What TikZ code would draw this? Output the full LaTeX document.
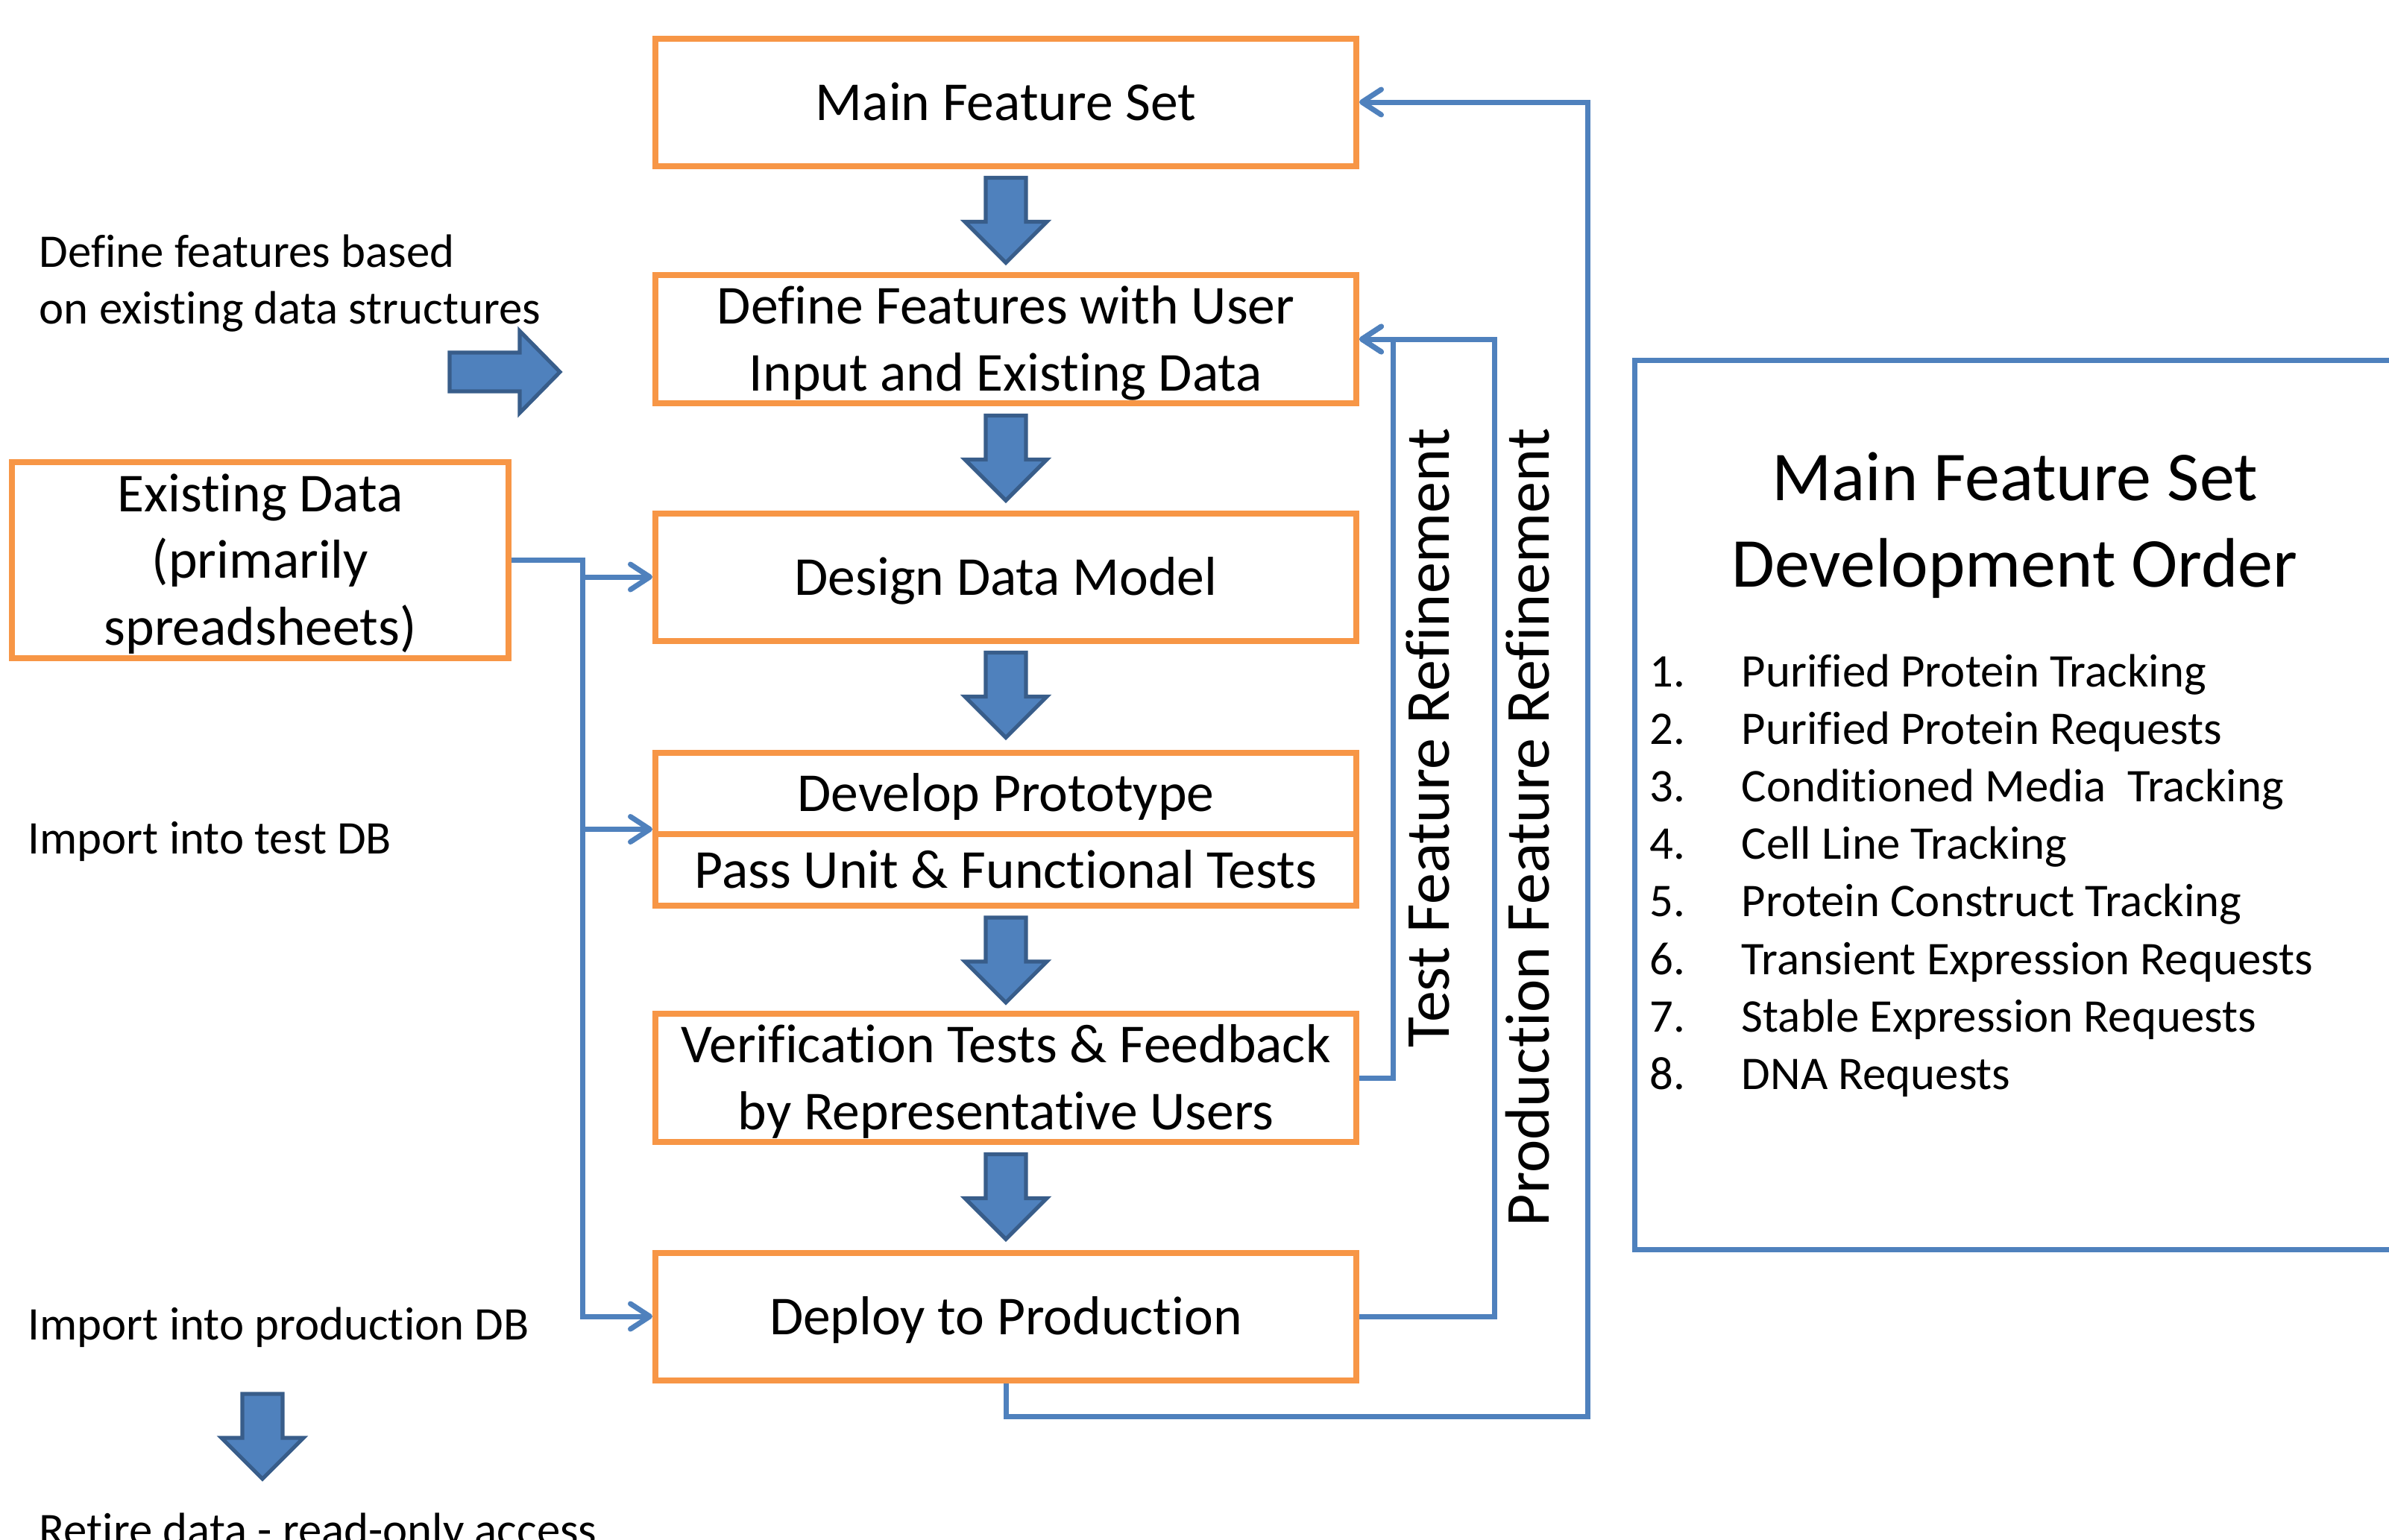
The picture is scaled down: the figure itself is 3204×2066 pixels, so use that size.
\documentclass[tikz,border=0pt]{standalone}
\usepackage{fontspec}
\setmainfont{Carlito}[Ligatures={NoCommon}]
\usetikzlibrary{arrows.meta}
\definecolor{boxorange}{HTML}{F79646}
\definecolor{linkblue}{HTML}{4F81BD}
\definecolor{edgeblue}{HTML}{385D8A}
% invisible struts that fix the vertical placement of box texts
\newcommand\tpad{\rule{0pt}{16.5pt}}
\newcommand\bpad{\rule[-4.3pt]{0pt}{4.3pt}}

\begin{document}
\begin{tikzpicture}[x=0.25pt,y=-0.25pt,
  stagebox/.style={draw=boxorange, line width=2pt, minimum width=235pt,
    minimum height=42.75pt, inner sep=0pt, align=center,
    font=\fontsize{18.4}{22.4}\selectfont},
  stagetext/.style={inner sep=0pt, font=\fontsize{18.4}{22.4}\selectfont},
  conn/.style={draw=linkblue, line width=1.75pt},
  feed/.style={conn, -{Straight Barb[length=6.5pt,width=8.5pt,round]}},
  blockfill/.style={fill=linkblue, draw=edgeblue, line width=1.3pt},
  note/.style={anchor=base west, inner sep=0pt,
    font=\fontsize{15.7}{19.2}\selectfont},
  sidelabel/.style={rotate=90, anchor=base east, inner sep=0pt,
    font=\fontsize{21}{25}\selectfont},
  blockdown/.pic={\path[blockfill] (-27,0) -- (27,0) -- (27,59) -- (55,59)
    -- (0,114) -- (-55,59) -- (-27,59) -- cycle;},
  blockright/.pic={\path[blockfill] (0,-26) -- (94,-26) -- (94,-55)
    -- (148,0) -- (94,55) -- (94,26) -- (0,26) -- cycle;}
]
\useasboundingbox (0,0) rectangle (3204,2066);
\fill[white] (0,0) rectangle (3204,2066);
\clip (0,0) rectangle (3204,2066);

% main process column
\node[stagebox] (main)   at (1349,137)  {\tpad Main Feature Set\bpad};
\node[stagebox] (define) at (1349,455)  {\tpad Define Features with User\\Input and Existing Data\bpad};
\node[stagebox] (design) at (1349,774)  {\tpad Design Data Model\bpad};
\node[stagebox, minimum height=51.25pt] (dev) at (1349,1112.5) {};
\draw[boxorange, line width=2pt] (dev.west |- 0,1119) -- (dev.east |- 0,1119);
\node[stagetext] (devtop) at (1349,1064.5) {\tpad Develop Prototype\bpad};
\node[stagetext] (devbot) at (1349,1167)   {\tpad Pass Unit \& Functional Tests\bpad};
\node[stagebox] (verif)  at (1349,1446) {\tpad Verification Tests \& Feedback\\by Representative Users\bpad};
\node[stagebox] (deploy) at (1349,1766) {\tpad Deploy to Production\bpad};

% data source
\node[stagebox, minimum width=166.5pt, minimum height=61.75pt] (existing) at (349,751.5)
  {\tpad Existing Data\\(primarily\\spreadsheets)\bpad};

% block arrows between stages
\path (main.south)   ++(0,12) pic {blockdown};
\path (define.south) ++(0,12) pic {blockdown};
\path (design.south) ++(0,12) pic {blockdown};
\path (dev.south)    ++(0,12) pic {blockdown};
\path (verif.south)  ++(0,12) pic {blockdown};
\pic at (603,499) {blockright};
\pic at (352,1870) {blockdown};

% side notes
\node[note] (defnote1) at (52,358)  {Define features based};
\node[note] (defnote2) at (52,434)  {on existing data structures};
\node[note] (testnote) at (37,1145) {Import into test DB};
\node[note] (prodnote) at (37,1797) {Import into production DB};
\node[note] (retire)   at (52,2073) {Retire data - read-only access};

% data import connectors
\draw[feed] (existing.east) -- ++(95,0) coordinate (bus) |- (deploy.west);
\draw[feed] (bus |- design.west) -- (design.west);
\draw[feed] (bus |- dev.west) -- (dev.west);

% refinement loops
\coordinate (loopturn) at (2129,1900);
\draw[feed] (deploy.south) |- (loopturn) |- (main.east);
\draw[feed] (verif.east) -- ++(45,0) |- (define.east);
\draw[feed] (deploy.east) -- ++(181,0) |- (define.east);
\node[sidelabel] (testlbl) at (1943,574) {Test Feature Refinement};
\node[sidelabel] (prodlbl) at (2077,574) {Production Feature Refinement};

% development order panel
\node[draw=linkblue, line width=1.75pt, minimum width=277pt, minimum height=298.25pt,
  inner sep=0pt] (order) at (2746,1079.5) {};
\node[align=center, inner sep=0pt, font=\fontsize{23.5}{29}\selectfont] (ordertitle)
  at (2702,729) {\rule{0pt}{20pt}Main Feature Set\\Development Order\rule[-20pt]{0pt}{20pt}};
\foreach \num/\item [count=\k from 0] in {
    1./Purified Protein Tracking,
    2./Purified Protein Requests,
    3./Conditioned Media\ \ Tracking,
    4./Cell Line Tracking,
    5./Protein Construct Tracking,
    6./Transient Expression Requests,
    7./Stable Expression Requests,
    8./DNA Requests} {
  \node[note] (num\k)  at (2212,921+77.2*\k) {\num};
  \node[note] (item\k) at (2335,921+77.2*\k) {\item};
}
\end{tikzpicture}
\end{document}
